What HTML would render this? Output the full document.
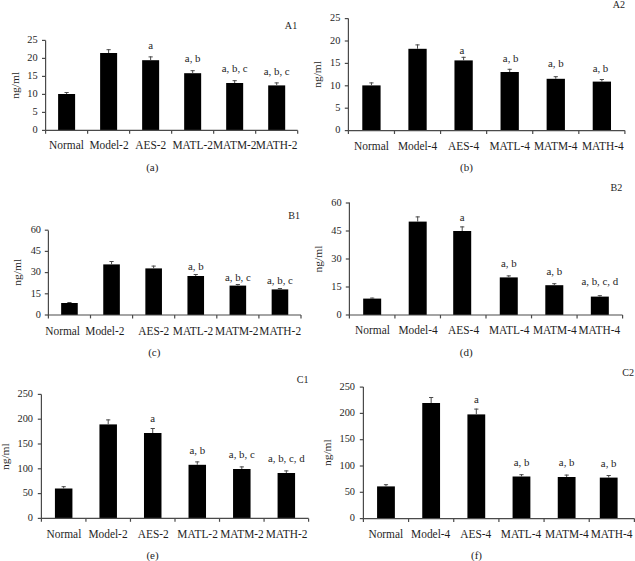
<!DOCTYPE html>
<html><head><meta charset="utf-8"><title>Figure</title>
<style>
html,body{margin:0;padding:0;background:#fff;}
body{width:635px;height:561px;overflow:hidden;}
svg{display:block;}
text{font-family:"Liberation Serif",serif;font-size:11px;fill:#1e1e1e;}
</style></head><body>
<svg width="635" height="561" viewBox="0 0 635 561">
<rect width="635" height="561" fill="#fff"/>
<rect x="58.11" y="94" width="17" height="36.4" fill="#000"/>
<path d="M66.61 94V92M64.51 92.5H68.71" stroke="#4a4a4a" stroke-width="1" fill="none"/>
<rect x="100.12" y="53" width="17" height="77.4" fill="#000"/>
<path d="M108.62 53V49.2M106.53 49.7H110.72" stroke="#4a4a4a" stroke-width="1" fill="none"/>
<rect x="142.14" y="60.2" width="17" height="70.2" fill="#000"/>
<path d="M150.64 60.2V56.4M148.54 56.9H152.74" stroke="#4a4a4a" stroke-width="1" fill="none"/>
<text transform="translate(150.64 49) scale(0.97 1)" text-anchor="middle" style="font-size:11.2px">a</text>
<rect x="184.16" y="73.2" width="17" height="57.2" fill="#000"/>
<path d="M192.66 73.2V70.2M190.56 70.7H194.76" stroke="#4a4a4a" stroke-width="1" fill="none"/>
<text transform="translate(192.66 62) scale(0.97 1)" text-anchor="middle" style="font-size:11.2px">a, b</text>
<rect x="226.17" y="83" width="17" height="47.4" fill="#000"/>
<path d="M234.67 83V80.2M232.57 80.7H236.77" stroke="#4a4a4a" stroke-width="1" fill="none"/>
<text transform="translate(234.67 72) scale(0.97 1)" text-anchor="middle" style="font-size:11.2px">a, b, c</text>
<rect x="268.19" y="85.4" width="17" height="45" fill="#000"/>
<path d="M276.69 85.4V82.4M274.59 82.9H278.79" stroke="#4a4a4a" stroke-width="1" fill="none"/>
<text transform="translate(276.69 75) scale(0.97 1)" text-anchor="middle" style="font-size:11.2px">a, b, c</text>
<path d="M45.6 40.4V130.4H297.7" stroke="#4a4a4a" stroke-width="1.2" fill="none"/>
<path d="M42 130.4H45.6" stroke="#4a4a4a" stroke-width="1.2"/>
<text transform="translate(37.6 133.1) scale(0.94 1)" text-anchor="end" style="font-size:11px">0</text>
<path d="M42 112.4H45.6" stroke="#4a4a4a" stroke-width="1.2"/>
<text transform="translate(37.6 115.1) scale(0.94 1)" text-anchor="end" style="font-size:11px">5</text>
<path d="M42 94.4H45.6" stroke="#4a4a4a" stroke-width="1.2"/>
<text transform="translate(37.6 97.1) scale(0.94 1)" text-anchor="end" style="font-size:11px">10</text>
<path d="M42 76.4H45.6" stroke="#4a4a4a" stroke-width="1.2"/>
<text transform="translate(37.6 79.1) scale(0.94 1)" text-anchor="end" style="font-size:11px">15</text>
<path d="M42 58.4H45.6" stroke="#4a4a4a" stroke-width="1.2"/>
<text transform="translate(37.6 61.1) scale(0.94 1)" text-anchor="end" style="font-size:11px">20</text>
<path d="M42 40.4H45.6" stroke="#4a4a4a" stroke-width="1.2"/>
<text transform="translate(37.6 43.1) scale(0.94 1)" text-anchor="end" style="font-size:11px">25</text>
<path d="M45.6 130.4V133.8" stroke="#4a4a4a" stroke-width="1.2"/>
<path d="M87.62 130.4V133.8" stroke="#4a4a4a" stroke-width="1.2"/>
<path d="M129.63 130.4V133.8" stroke="#4a4a4a" stroke-width="1.2"/>
<path d="M171.65 130.4V133.8" stroke="#4a4a4a" stroke-width="1.2"/>
<path d="M213.67 130.4V133.8" stroke="#4a4a4a" stroke-width="1.2"/>
<path d="M255.68 130.4V133.8" stroke="#4a4a4a" stroke-width="1.2"/>
<path d="M297.7 130.4V133.8" stroke="#4a4a4a" stroke-width="1.2"/>
<text transform="translate(66.5 149.4) scale(0.95 1)" text-anchor="middle" style="font-size:12px">Normal</text>
<text transform="translate(109 149.4) scale(0.95 1)" text-anchor="middle" style="font-size:12px">Model-2</text>
<text transform="translate(150.8 149.4) scale(0.95 1)" text-anchor="middle" style="font-size:12px">AES-2</text>
<text transform="translate(192.7 149.4) scale(0.95 1)" text-anchor="middle" style="font-size:12px">MATL-2</text>
<text transform="translate(234.7 149.4) scale(0.95 1)" text-anchor="middle" style="font-size:12px">MATM-2</text>
<text transform="translate(276.5 149.4) scale(0.95 1)" text-anchor="middle" style="font-size:12px">MATH-2</text>
<text transform="translate(297.2 29) scale(0.92 1)" text-anchor="end" style="font-size:11px">A1</text>
<text transform="translate(152.3 171.3) scale(1 1)" text-anchor="middle" style="font-size:11px">(a)</text>
<text transform="translate(16.2 85.3) rotate(-90) scale(1 0.9)" x="0" y="2.7" text-anchor="middle" style="font-size:11.5px">ng/ml</text>
<rect x="362.29" y="85.4" width="18.3" height="45.2" fill="#000"/>
<path d="M371.44 85.4V82.4M369.34 82.9H373.54" stroke="#4a4a4a" stroke-width="1" fill="none"/>
<rect x="408.38" y="48.8" width="18.3" height="81.8" fill="#000"/>
<path d="M417.52 48.8V44.4M415.42 44.9H419.62" stroke="#4a4a4a" stroke-width="1" fill="none"/>
<rect x="454.46" y="60.4" width="18.3" height="70.2" fill="#000"/>
<path d="M463.61 60.4V56.8M461.51 57.3H465.71" stroke="#4a4a4a" stroke-width="1" fill="none"/>
<text transform="translate(461.91 53.6) scale(0.97 1)" text-anchor="middle" style="font-size:11.2px">a</text>
<rect x="500.54" y="72" width="18.3" height="58.6" fill="#000"/>
<path d="M509.69 72V68.8M507.59 69.3H511.79" stroke="#4a4a4a" stroke-width="1" fill="none"/>
<text transform="translate(510.69 62) scale(0.97 1)" text-anchor="middle" style="font-size:11.2px">a, b</text>
<rect x="546.62" y="78.8" width="18.3" height="51.8" fill="#000"/>
<path d="M555.77 78.8V76.2M553.67 76.7H557.88" stroke="#4a4a4a" stroke-width="1" fill="none"/>
<text transform="translate(555.77 67.4) scale(0.97 1)" text-anchor="middle" style="font-size:11.2px">a, b</text>
<rect x="592.71" y="81.6" width="18.3" height="49" fill="#000"/>
<path d="M601.86 81.6V79M599.76 79.5H603.96" stroke="#4a4a4a" stroke-width="1" fill="none"/>
<text transform="translate(600.46 71.6) scale(0.97 1)" text-anchor="middle" style="font-size:11.2px">a, b</text>
<path d="M348.4 18.6V130.6H624.9" stroke="#4a4a4a" stroke-width="1.2" fill="none"/>
<path d="M344.8 130.6H348.4" stroke="#4a4a4a" stroke-width="1.2"/>
<text transform="translate(340.4 133.3) scale(0.94 1)" text-anchor="end" style="font-size:11px">0</text>
<path d="M344.8 108.2H348.4" stroke="#4a4a4a" stroke-width="1.2"/>
<text transform="translate(340.4 110.9) scale(0.94 1)" text-anchor="end" style="font-size:11px">5</text>
<path d="M344.8 85.8H348.4" stroke="#4a4a4a" stroke-width="1.2"/>
<text transform="translate(340.4 88.5) scale(0.94 1)" text-anchor="end" style="font-size:11px">10</text>
<path d="M344.8 63.4H348.4" stroke="#4a4a4a" stroke-width="1.2"/>
<text transform="translate(340.4 66.1) scale(0.94 1)" text-anchor="end" style="font-size:11px">15</text>
<path d="M344.8 41H348.4" stroke="#4a4a4a" stroke-width="1.2"/>
<text transform="translate(340.4 43.7) scale(0.94 1)" text-anchor="end" style="font-size:11px">20</text>
<path d="M344.8 18.6H348.4" stroke="#4a4a4a" stroke-width="1.2"/>
<text transform="translate(340.4 21.3) scale(0.94 1)" text-anchor="end" style="font-size:11px">25</text>
<path d="M348.4 130.6V134" stroke="#4a4a4a" stroke-width="1.2"/>
<path d="M394.48 130.6V134" stroke="#4a4a4a" stroke-width="1.2"/>
<path d="M440.57 130.6V134" stroke="#4a4a4a" stroke-width="1.2"/>
<path d="M486.65 130.6V134" stroke="#4a4a4a" stroke-width="1.2"/>
<path d="M532.73 130.6V134" stroke="#4a4a4a" stroke-width="1.2"/>
<path d="M578.82 130.6V134" stroke="#4a4a4a" stroke-width="1.2"/>
<path d="M624.9 130.6V134" stroke="#4a4a4a" stroke-width="1.2"/>
<text transform="translate(371.5 150) scale(0.95 1)" text-anchor="middle" style="font-size:12px">Normal</text>
<text transform="translate(417.5 150) scale(0.95 1)" text-anchor="middle" style="font-size:12px">Model-4</text>
<text transform="translate(463.6 150) scale(0.95 1)" text-anchor="middle" style="font-size:12px">AES-4</text>
<text transform="translate(509.7 150) scale(0.95 1)" text-anchor="middle" style="font-size:12px">MATL-4</text>
<text transform="translate(555.7 150) scale(0.95 1)" text-anchor="middle" style="font-size:12px">MATM-4</text>
<text transform="translate(602.8 150) scale(0.95 1)" text-anchor="middle" style="font-size:12px">MATH-4</text>
<text transform="translate(625 7.6) scale(0.92 1)" text-anchor="end" style="font-size:11px">A2</text>
<text transform="translate(466.5 171.3) scale(1 1)" text-anchor="middle" style="font-size:11px">(b)</text>
<text transform="translate(318.65 74.4) rotate(-90) scale(1 0.9)" x="0" y="2.7" text-anchor="middle" style="font-size:11.5px">ng/ml</text>
<rect x="61.15" y="303" width="16.6" height="12" fill="#000"/>
<path d="M69.45 303V302M67.35 302.5H71.55" stroke="#4a4a4a" stroke-width="1" fill="none"/>
<rect x="103.25" y="264.4" width="16.6" height="50.6" fill="#000"/>
<path d="M111.55 264.4V261M109.45 261.5H113.65" stroke="#4a4a4a" stroke-width="1" fill="none"/>
<rect x="145.35" y="268.4" width="16.6" height="46.6" fill="#000"/>
<path d="M153.65 268.4V265.6M151.55 266.1H155.75" stroke="#4a4a4a" stroke-width="1" fill="none"/>
<rect x="187.45" y="276" width="16.6" height="39" fill="#000"/>
<path d="M195.75 276V274M193.65 274.5H197.85" stroke="#4a4a4a" stroke-width="1" fill="none"/>
<text transform="translate(195.75 269.6) scale(0.97 1)" text-anchor="middle" style="font-size:11.2px">a, b</text>
<rect x="229.55" y="285.6" width="16.6" height="29.4" fill="#000"/>
<path d="M237.85 285.6V284M235.75 284.5H239.95" stroke="#4a4a4a" stroke-width="1" fill="none"/>
<text transform="translate(237.85 281) scale(0.97 1)" text-anchor="middle" style="font-size:11.2px">a, b, c</text>
<rect x="271.65" y="289.4" width="16.6" height="25.6" fill="#000"/>
<path d="M279.95 289.4V288M277.85 288.5H282.05" stroke="#4a4a4a" stroke-width="1" fill="none"/>
<text transform="translate(279.95 284.4) scale(0.97 1)" text-anchor="middle" style="font-size:11.2px">a, b, c</text>
<path d="M48.4 230.4V315H301" stroke="#4a4a4a" stroke-width="1.2" fill="none"/>
<path d="M44.8 315H48.4" stroke="#4a4a4a" stroke-width="1.2"/>
<text transform="translate(41 317.7) scale(0.94 1)" text-anchor="end" style="font-size:11px">0</text>
<path d="M44.8 293.8H48.4" stroke="#4a4a4a" stroke-width="1.2"/>
<text transform="translate(41 296.5) scale(0.94 1)" text-anchor="end" style="font-size:11px">15</text>
<path d="M44.8 272.6H48.4" stroke="#4a4a4a" stroke-width="1.2"/>
<text transform="translate(41 275.3) scale(0.94 1)" text-anchor="end" style="font-size:11px">30</text>
<path d="M44.8 251.4H48.4" stroke="#4a4a4a" stroke-width="1.2"/>
<text transform="translate(41 254.1) scale(0.94 1)" text-anchor="end" style="font-size:11px">45</text>
<path d="M44.8 230.2H48.4" stroke="#4a4a4a" stroke-width="1.2"/>
<text transform="translate(41 232.9) scale(0.94 1)" text-anchor="end" style="font-size:11px">60</text>
<path d="M48.4 315V318.4" stroke="#4a4a4a" stroke-width="1.2"/>
<path d="M90.5 315V318.4" stroke="#4a4a4a" stroke-width="1.2"/>
<path d="M132.6 315V318.4" stroke="#4a4a4a" stroke-width="1.2"/>
<path d="M174.7 315V318.4" stroke="#4a4a4a" stroke-width="1.2"/>
<path d="M216.8 315V318.4" stroke="#4a4a4a" stroke-width="1.2"/>
<path d="M258.9 315V318.4" stroke="#4a4a4a" stroke-width="1.2"/>
<path d="M301 315V318.4" stroke="#4a4a4a" stroke-width="1.2"/>
<text transform="translate(62.6 334.5) scale(0.95 1)" text-anchor="middle" style="font-size:12px">Normal</text>
<text transform="translate(104.9 334.5) scale(0.95 1)" text-anchor="middle" style="font-size:12px">Model-2</text>
<text transform="translate(153.8 334.5) scale(0.95 1)" text-anchor="middle" style="font-size:12px">AES-2</text>
<text transform="translate(193 334.5) scale(0.95 1)" text-anchor="middle" style="font-size:12px">MATL-2</text>
<text transform="translate(236.7 334.5) scale(0.95 1)" text-anchor="middle" style="font-size:12px">MATM-2</text>
<text transform="translate(280.2 334.5) scale(0.95 1)" text-anchor="middle" style="font-size:12px">MATH-2</text>
<text transform="translate(300 218.8) scale(0.92 1)" text-anchor="end" style="font-size:11px">B1</text>
<text transform="translate(154.3 356) scale(1 1)" text-anchor="middle" style="font-size:11px">(c)</text>
<text transform="translate(18.9 272.3) rotate(-90) scale(1 0.9)" x="0" y="2.7" text-anchor="middle" style="font-size:11.5px">ng/ml</text>
<rect x="363.17" y="298.6" width="18" height="16.4" fill="#000"/>
<path d="M372.17 298.6V297.6M370.07 298.1H374.27" stroke="#4a4a4a" stroke-width="1" fill="none"/>
<rect x="408.7" y="221.6" width="18" height="93.4" fill="#000"/>
<path d="M417.7 221.6V216.4M415.6 216.9H419.8" stroke="#4a4a4a" stroke-width="1" fill="none"/>
<rect x="453.2" y="231" width="18" height="84" fill="#000"/>
<path d="M462.2 231V226.4M460.1 226.9H464.3" stroke="#4a4a4a" stroke-width="1" fill="none"/>
<text transform="translate(462.2 221.4) scale(0.97 1)" text-anchor="middle" style="font-size:11.2px">a</text>
<rect x="499.77" y="277.4" width="18" height="37.6" fill="#000"/>
<path d="M508.77 277.4V275.4M506.67 275.9H510.87" stroke="#4a4a4a" stroke-width="1" fill="none"/>
<text transform="translate(508.77 267) scale(0.97 1)" text-anchor="middle" style="font-size:11.2px">a, b</text>
<rect x="545.3" y="285.2" width="18" height="29.8" fill="#000"/>
<path d="M554.3 285.2V283.2M552.2 283.7H556.4" stroke="#4a4a4a" stroke-width="1" fill="none"/>
<text transform="translate(554.3 274.6) scale(0.97 1)" text-anchor="middle" style="font-size:11.2px">a, b</text>
<rect x="590.83" y="296.6" width="18" height="18.4" fill="#000"/>
<path d="M599.83 296.6V295.2M597.73 295.7H601.93" stroke="#4a4a4a" stroke-width="1" fill="none"/>
<text transform="translate(599.83 285.4) scale(0.97 1)" text-anchor="middle" style="font-size:11.2px">a, b, c, d</text>
<path d="M349.4 202.6V315H622.6" stroke="#4a4a4a" stroke-width="1.2" fill="none"/>
<path d="M345.8 315H349.4" stroke="#4a4a4a" stroke-width="1.2"/>
<text transform="translate(341.6 317.7) scale(0.94 1)" text-anchor="end" style="font-size:11px">0</text>
<path d="M345.8 287H349.4" stroke="#4a4a4a" stroke-width="1.2"/>
<text transform="translate(341.6 289.7) scale(0.94 1)" text-anchor="end" style="font-size:11px">15</text>
<path d="M345.8 259H349.4" stroke="#4a4a4a" stroke-width="1.2"/>
<text transform="translate(341.6 261.7) scale(0.94 1)" text-anchor="end" style="font-size:11px">30</text>
<path d="M345.8 231H349.4" stroke="#4a4a4a" stroke-width="1.2"/>
<text transform="translate(341.6 233.7) scale(0.94 1)" text-anchor="end" style="font-size:11px">45</text>
<path d="M345.8 203H349.4" stroke="#4a4a4a" stroke-width="1.2"/>
<text transform="translate(341.6 205.7) scale(0.94 1)" text-anchor="end" style="font-size:11px">60</text>
<path d="M349.4 315V318.4" stroke="#4a4a4a" stroke-width="1.2"/>
<path d="M394.93 315V318.4" stroke="#4a4a4a" stroke-width="1.2"/>
<path d="M440.47 315V318.4" stroke="#4a4a4a" stroke-width="1.2"/>
<path d="M486 315V318.4" stroke="#4a4a4a" stroke-width="1.2"/>
<path d="M531.53 315V318.4" stroke="#4a4a4a" stroke-width="1.2"/>
<path d="M577.07 315V318.4" stroke="#4a4a4a" stroke-width="1.2"/>
<path d="M622.6 315V318.4" stroke="#4a4a4a" stroke-width="1.2"/>
<text transform="translate(372.5 334.4) scale(0.95 1)" text-anchor="middle" style="font-size:12px">Normal</text>
<text transform="translate(418.1 334.4) scale(0.95 1)" text-anchor="middle" style="font-size:12px">Model-4</text>
<text transform="translate(463.6 334.4) scale(0.95 1)" text-anchor="middle" style="font-size:12px">AES-4</text>
<text transform="translate(509.2 334.4) scale(0.95 1)" text-anchor="middle" style="font-size:12px">MATL-4</text>
<text transform="translate(554.8 334.4) scale(0.95 1)" text-anchor="middle" style="font-size:12px">MATM-4</text>
<text transform="translate(599.3 334.4) scale(0.95 1)" text-anchor="middle" style="font-size:12px">MATH-4</text>
<text transform="translate(622.4 191) scale(0.92 1)" text-anchor="end" style="font-size:11px">B2</text>
<text transform="translate(466.2 355.6) scale(1 1)" text-anchor="middle" style="font-size:11px">(d)</text>
<text transform="translate(320 259) rotate(-90) scale(1 0.9)" x="0" y="2.7" text-anchor="middle" style="font-size:11.5px">ng/ml</text>
<rect x="54.92" y="488.5" width="17.5" height="29.9" fill="#000"/>
<path d="M63.67 488.5V486.2M61.57 486.7H65.77" stroke="#4a4a4a" stroke-width="1" fill="none"/>
<rect x="99.45" y="424.4" width="17.5" height="94" fill="#000"/>
<path d="M108.2 424.4V419.4M106.1 419.9H110.3" stroke="#4a4a4a" stroke-width="1" fill="none"/>
<rect x="143.98" y="433" width="17.5" height="85.4" fill="#000"/>
<path d="M152.73 433V428M150.63 428.5H154.83" stroke="#4a4a4a" stroke-width="1" fill="none"/>
<text transform="translate(152.73 421.6) scale(0.97 1)" text-anchor="middle" style="font-size:11.2px">a</text>
<rect x="188.52" y="464.8" width="17.5" height="53.6" fill="#000"/>
<path d="M197.27 464.8V461.4M195.17 461.9H199.37" stroke="#4a4a4a" stroke-width="1" fill="none"/>
<text transform="translate(197.27 454) scale(0.97 1)" text-anchor="middle" style="font-size:11.2px">a, b</text>
<rect x="233.05" y="469" width="17.5" height="49.4" fill="#000"/>
<path d="M241.8 469V466.4M239.7 466.9H243.9" stroke="#4a4a4a" stroke-width="1" fill="none"/>
<text transform="translate(241.8 458) scale(0.97 1)" text-anchor="middle" style="font-size:11.2px">a, b, c</text>
<rect x="277.58" y="473" width="17.5" height="45.4" fill="#000"/>
<path d="M286.33 473V470.4M284.23 470.9H288.43" stroke="#4a4a4a" stroke-width="1" fill="none"/>
<text transform="translate(286.33 462) scale(0.97 1)" text-anchor="middle" style="font-size:11.2px">a, b, c, d</text>
<path d="M41.4 394.4V518.4H308.6" stroke="#4a4a4a" stroke-width="1.2" fill="none"/>
<path d="M37.8 518.4H41.4" stroke="#4a4a4a" stroke-width="1.2"/>
<text transform="translate(33 521.1) scale(0.94 1)" text-anchor="end" style="font-size:11px">0</text>
<path d="M37.8 493.6H41.4" stroke="#4a4a4a" stroke-width="1.2"/>
<text transform="translate(33 496.3) scale(0.94 1)" text-anchor="end" style="font-size:11px">50</text>
<path d="M37.8 468.8H41.4" stroke="#4a4a4a" stroke-width="1.2"/>
<text transform="translate(33 471.5) scale(0.94 1)" text-anchor="end" style="font-size:11px">100</text>
<path d="M37.8 444H41.4" stroke="#4a4a4a" stroke-width="1.2"/>
<text transform="translate(33 446.7) scale(0.94 1)" text-anchor="end" style="font-size:11px">150</text>
<path d="M37.8 419.2H41.4" stroke="#4a4a4a" stroke-width="1.2"/>
<text transform="translate(33 421.9) scale(0.94 1)" text-anchor="end" style="font-size:11px">200</text>
<path d="M37.8 394.4H41.4" stroke="#4a4a4a" stroke-width="1.2"/>
<text transform="translate(33 397.1) scale(0.94 1)" text-anchor="end" style="font-size:11px">250</text>
<path d="M41.4 518.4V521.8" stroke="#4a4a4a" stroke-width="1.2"/>
<path d="M85.93 518.4V521.8" stroke="#4a4a4a" stroke-width="1.2"/>
<path d="M130.47 518.4V521.8" stroke="#4a4a4a" stroke-width="1.2"/>
<path d="M175 518.4V521.8" stroke="#4a4a4a" stroke-width="1.2"/>
<path d="M219.53 518.4V521.8" stroke="#4a4a4a" stroke-width="1.2"/>
<path d="M264.07 518.4V521.8" stroke="#4a4a4a" stroke-width="1.2"/>
<path d="M308.6 518.4V521.8" stroke="#4a4a4a" stroke-width="1.2"/>
<text transform="translate(63.9 538) scale(0.95 1)" text-anchor="middle" style="font-size:12px">Normal</text>
<text transform="translate(108 538) scale(0.95 1)" text-anchor="middle" style="font-size:12px">Model-2</text>
<text transform="translate(153.2 538) scale(0.95 1)" text-anchor="middle" style="font-size:12px">AES-2</text>
<text transform="translate(197.6 538) scale(0.95 1)" text-anchor="middle" style="font-size:12px">MATL-2</text>
<text transform="translate(242 538) scale(0.95 1)" text-anchor="middle" style="font-size:12px">MATM-2</text>
<text transform="translate(286.5 538) scale(0.95 1)" text-anchor="middle" style="font-size:12px">MATH-2</text>
<text transform="translate(308.6 383) scale(0.92 1)" text-anchor="end" style="font-size:11px">C1</text>
<text transform="translate(152.5 559) scale(1 1)" text-anchor="middle" style="font-size:11px">(e)</text>
<text transform="translate(6.7 456.7) rotate(-90) scale(1 0.9)" x="0" y="2.7" text-anchor="middle" style="font-size:11.5px">ng/ml</text>
<rect x="377.08" y="486.4" width="17.8" height="32.2" fill="#000"/>
<path d="M385.98 486.4V484.2M383.88 484.7H388.08" stroke="#4a4a4a" stroke-width="1" fill="none"/>
<rect x="422.25" y="403" width="17.8" height="115.6" fill="#000"/>
<path d="M431.15 403V397M429.05 397.5H433.25" stroke="#4a4a4a" stroke-width="1" fill="none"/>
<rect x="467.42" y="414.4" width="17.8" height="104.2" fill="#000"/>
<path d="M476.32 414.4V408.6M474.22 409.1H478.42" stroke="#4a4a4a" stroke-width="1" fill="none"/>
<text transform="translate(476.32 403) scale(0.97 1)" text-anchor="middle" style="font-size:11.2px">a</text>
<rect x="512.58" y="476.5" width="17.8" height="42.1" fill="#000"/>
<path d="M521.48 476.5V474.2M519.38 474.7H523.58" stroke="#4a4a4a" stroke-width="1" fill="none"/>
<text transform="translate(521.48 466) scale(0.97 1)" text-anchor="middle" style="font-size:11.2px">a, b</text>
<rect x="557.75" y="477" width="17.8" height="41.6" fill="#000"/>
<path d="M566.65 477V474.6M564.55 475.1H568.75" stroke="#4a4a4a" stroke-width="1" fill="none"/>
<text transform="translate(566.65 466) scale(0.97 1)" text-anchor="middle" style="font-size:11.2px">a, b</text>
<rect x="599.8" y="477.6" width="17.8" height="41" fill="#000"/>
<path d="M608.7 477.6V475M606.6 475.5H610.8" stroke="#4a4a4a" stroke-width="1" fill="none"/>
<text transform="translate(608.7 466.6) scale(0.97 1)" text-anchor="middle" style="font-size:11.2px">a, b</text>
<path d="M363.4 387V518.6H634.4" stroke="#4a4a4a" stroke-width="1.2" fill="none"/>
<path d="M359.8 518.6H363.4" stroke="#4a4a4a" stroke-width="1.2"/>
<text transform="translate(355 521.3) scale(0.94 1)" text-anchor="end" style="font-size:11px">0</text>
<path d="M359.8 492.3H363.4" stroke="#4a4a4a" stroke-width="1.2"/>
<text transform="translate(355 495) scale(0.94 1)" text-anchor="end" style="font-size:11px">50</text>
<path d="M359.8 466H363.4" stroke="#4a4a4a" stroke-width="1.2"/>
<text transform="translate(355 468.7) scale(0.94 1)" text-anchor="end" style="font-size:11px">100</text>
<path d="M359.8 439.7H363.4" stroke="#4a4a4a" stroke-width="1.2"/>
<text transform="translate(355 442.4) scale(0.94 1)" text-anchor="end" style="font-size:11px">150</text>
<path d="M359.8 413.4H363.4" stroke="#4a4a4a" stroke-width="1.2"/>
<text transform="translate(355 416.1) scale(0.94 1)" text-anchor="end" style="font-size:11px">200</text>
<path d="M359.8 387.1H363.4" stroke="#4a4a4a" stroke-width="1.2"/>
<text transform="translate(355 389.8) scale(0.94 1)" text-anchor="end" style="font-size:11px">250</text>
<path d="M363.4 518.6V522" stroke="#4a4a4a" stroke-width="1.2"/>
<path d="M408.57 518.6V522" stroke="#4a4a4a" stroke-width="1.2"/>
<path d="M453.73 518.6V522" stroke="#4a4a4a" stroke-width="1.2"/>
<path d="M498.9 518.6V522" stroke="#4a4a4a" stroke-width="1.2"/>
<path d="M544.07 518.6V522" stroke="#4a4a4a" stroke-width="1.2"/>
<path d="M589.23 518.6V522" stroke="#4a4a4a" stroke-width="1.2"/>
<path d="M634.4 518.6V522" stroke="#4a4a4a" stroke-width="1.2"/>
<text transform="translate(385.8 538) scale(0.95 1)" text-anchor="middle" style="font-size:12px">Normal</text>
<text transform="translate(430.7 538) scale(0.95 1)" text-anchor="middle" style="font-size:12px">Model-4</text>
<text transform="translate(475.8 538) scale(0.95 1)" text-anchor="middle" style="font-size:12px">AES-4</text>
<text transform="translate(521 538) scale(0.95 1)" text-anchor="middle" style="font-size:12px">MATL-4</text>
<text transform="translate(566.8 538) scale(0.95 1)" text-anchor="middle" style="font-size:12px">MATM-4</text>
<text transform="translate(611.6 538) scale(0.95 1)" text-anchor="middle" style="font-size:12px">MATH-4</text>
<text transform="translate(634 376) scale(0.92 1)" text-anchor="end" style="font-size:11px">C2</text>
<text transform="translate(476.5 559) scale(1 1)" text-anchor="middle" style="font-size:11px">(f)</text>
<text transform="translate(329 452.65) rotate(-90) scale(1 0.9)" x="0" y="2.7" text-anchor="middle" style="font-size:11.5px">ng/ml</text>
</svg>
</body></html>
